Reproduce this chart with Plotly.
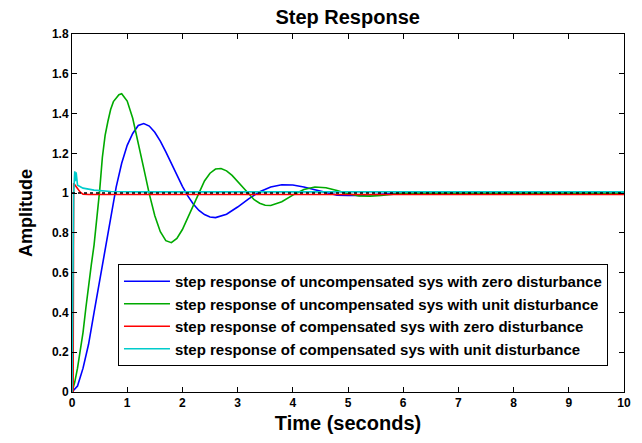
import plotly.graph_objects as go

# ---- data ----
blue_t = [0, 0.1, 0.2, 0.3, 0.4, 0.5, 0.6, 0.7, 0.8, 0.9, 1.0, 1.1, 1.2, 1.3, 1.4, 1.5,
          1.6, 1.7, 1.8, 1.9, 2.0, 2.1, 2.2, 2.3, 2.4, 2.5, 2.6, 2.8, 3.0, 3.2, 3.4, 3.6,
          3.8, 4.0, 4.2, 4.4, 4.6, 4.8, 5.0, 5.2, 5.5, 6.0, 7.0, 8.0, 9.0, 10.0]
blue_y = [0, 0.03, 0.12, 0.24, 0.40, 0.56, 0.73, 0.89, 1.03, 1.15, 1.24, 1.30, 1.34, 1.35,
          1.337, 1.306, 1.261, 1.207, 1.148, 1.089, 1.034, 0.985, 0.944, 0.913, 0.892, 0.880,
          0.877, 0.894, 0.930, 0.971, 1.007, 1.031, 1.042, 1.041, 1.031, 1.017, 1.003, 0.990,
          0.988, 0.988, 0.993, 1.0, 1.0, 1.0, 1.0, 1.0]

green_t = [0, 0.05, 0.1, 0.15, 0.2, 0.25, 0.3, 0.35, 0.4, 0.45, 0.5, 0.55, 0.6, 0.65, 0.7,
           0.75, 0.8, 0.85, 0.9, 1.0, 1.1, 1.2, 1.3, 1.4, 1.5, 1.6, 1.7, 1.8, 1.9, 2.0, 2.1,
           2.2, 2.3, 2.4, 2.5, 2.6, 2.7, 2.8, 2.9, 3.0, 3.1, 3.2, 3.3, 3.4, 3.5, 3.6, 3.8,
           4.0, 4.2, 4.4, 4.6, 4.8, 5.0, 5.2, 5.4, 5.6, 6.0, 7.0, 8.0, 9.0, 10.0]
green_y = [0, 0.05, 0.12, 0.20, 0.30, 0.42, 0.54, 0.64, 0.74, 0.86, 1.01, 1.18, 1.29, 1.36,
           1.42, 1.46, 1.48, 1.495, 1.50, 1.463, 1.376, 1.257, 1.124, 0.996, 0.886, 0.806,
           0.761, 0.751, 0.772, 0.817, 0.878, 0.945, 1.008, 1.061, 1.100, 1.121, 1.124, 1.112,
           1.089, 1.058, 1.024, 0.993, 0.967, 0.949, 0.939, 0.938, 0.957, 0.990, 1.018, 1.031,
           1.027, 1.013, 0.997, 0.986, 0.985, 0.988, 1.0, 1.0, 1.0, 1.0, 1.0]

red_t = [0, 0.02, 0.03, 0.06, 0.1, 0.15, 0.2, 0.25, 0.3, 10.0]
red_y = [0, 0.0, 1.05, 1.04, 1.025, 1.005, 0.995, 0.993, 0.993, 0.993]

cyan_t = [0, 0.01, 0.03, 0.05, 0.06, 0.075, 0.1, 0.2, 0.4, 0.7, 1.2, 10.0]
cyan_y = [0, 0.45, 1.0, 1.11, 1.06, 1.105, 1.04, 1.025, 1.015, 1.008, 1.006, 1.006]

ref_t = [0, 10]
ref_y = [1, 1]

names = [
    "step response of uncompensated sys with zero disturbance",
    "step response of uncompensated sys with unit disturbance",
    "step response of compensated sys with zero disturbance",
    "step response of compensated sys with unit disturbance",
]
colors = ["#0000ff", "#00aa00", "#ff0000", "#00cccc"]

x_ticks = [0, 1, 2, 3, 4, 5, 6, 7, 8, 9, 10]
x_ticktext = ["0", "1", "2", "3", "4", "5", "6", "7", "8", "9", "10"]
y_ticks = [0, 0.2, 0.4, 0.6, 0.8, 1.0, 1.2, 1.4, 1.6, 1.8]
y_ticktext = ["0", "0.2", "0.4", "0.6", "0.8", "1", "1.2", "1.4", "1.6", "1.8"]

FONT = "Liberation Sans, Arial, sans-serif"

fig = go.Figure()
series = [(blue_t, blue_y), (green_t, green_y), (red_t, red_y), (cyan_t, cyan_y)]
for (t, y), n, c in zip(series, names, colors):
    fig.add_trace(go.Scatter(x=t, y=y, mode="lines", name=n,
                             line=dict(color=c, width=1.6)))
fig.add_trace(go.Scatter(x=ref_t, y=ref_y, mode="lines", showlegend=False,
                         line=dict(color="black", width=1.5, dash="dot"),
                         hoverinfo="skip"))

fig.update_layout(
    width=642, height=443,
    margin=dict(l=72, r=18, t=34, b=51),
    paper_bgcolor="white", plot_bgcolor="white",
    font=dict(family=FONT, color="black"),
    title=dict(text="Step Response", x=0.5415, xanchor="center", y=0.962, yanchor="middle",
               font=dict(size=20, weight="bold", family=FONT, color="black")),
    legend=dict(x=0.0833, y=0.3575, xanchor="left", yanchor="top",
                bgcolor="white", bordercolor="black", borderwidth=1,
                font=dict(size=15, weight="bold", family=FONT, color="black"),
                itemwidth=46, tracegroupgap=0),
    showlegend=True,
)
fig.update_xaxes(range=[0, 10], tickmode="array", tickvals=x_ticks, ticktext=x_ticktext,
                 showgrid=False, zeroline=False, showline=True, linecolor="black",
                 linewidth=1, mirror="ticks", ticks="inside", ticklen=5, tickcolor="black",
                 tickfont=dict(size=12, weight="bold", family=FONT),
                 title=dict(text="Time (seconds)", standoff=6,
                            font=dict(size=20, weight="bold", family=FONT)))
fig.update_yaxes(range=[0, 1.8], tickmode="array", tickvals=y_ticks, ticktext=y_ticktext,
                 showgrid=False, zeroline=False, showline=True, linecolor="black",
                 linewidth=1, mirror="ticks", ticks="inside", ticklen=5, tickcolor="black",
                 tickfont=dict(size=12, weight="bold", family=FONT),
                 title=dict(text="Amplitude", standoff=14,
                            font=dict(size=18, weight="bold", family=FONT)))

fig.write_html("out.html")
